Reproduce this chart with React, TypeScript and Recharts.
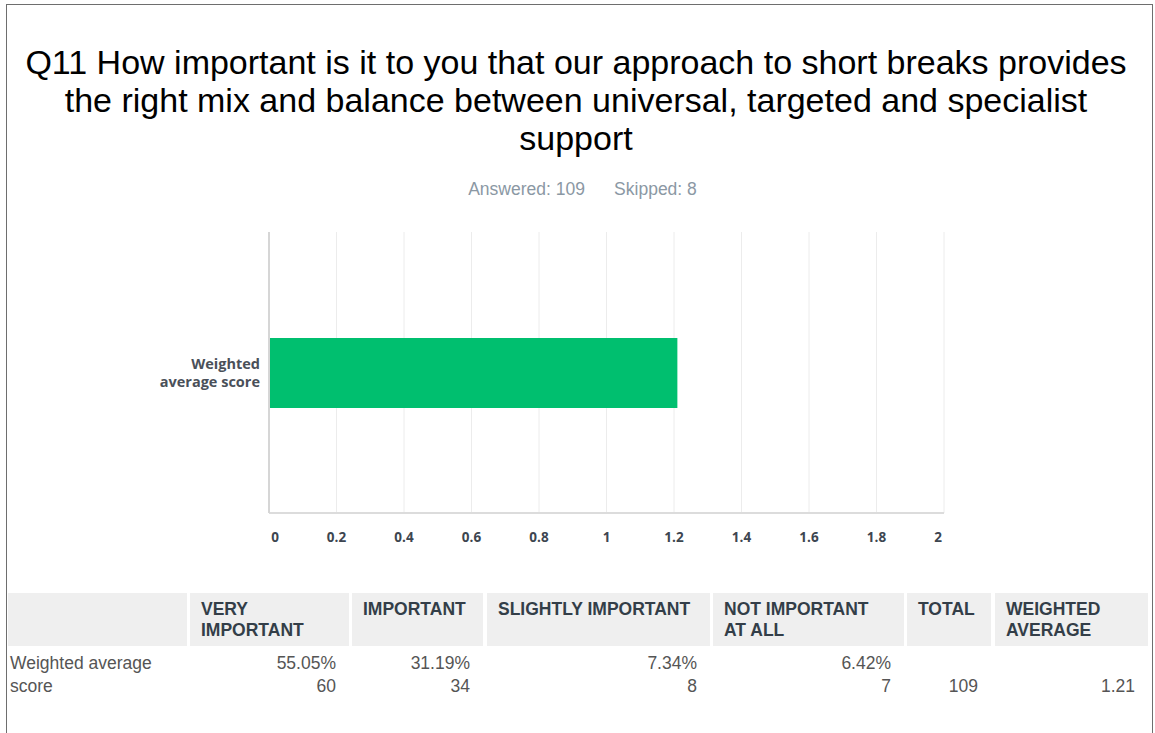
import React from "react";
import { BarChart, Bar, XAxis, YAxis, CartesianGrid } from "recharts";

const titleLines = [
  "Q11 How important is it to you that our approach to short breaks provides",
  "the right mix and balance between universal, targeted and specialist",
  "support",
];
const answered = "Answered: 109";
const skipped = "Skipped: 8";

const categories = ["Weighted average score"];
const scores = [1.21];
const xTicks = [0, 0.2, 0.4, 0.6, 0.8, 1, 1.2, 1.4, 1.6, 1.8, 2];

const headers = ["", "VERY\nIMPORTANT", "IMPORTANT", "SLIGHTLY IMPORTANT", "NOT IMPORTANT\nAT ALL", "TOTAL", "WEIGHTED\nAVERAGE"];
const rowLabel = "Weighted average\nscore";
const percents = ["55.05%", "31.19%", "7.34%", "6.42%", "", ""];
const counts = ["60", "34", "8", "7", "109", "1.21"];

const data = categories.map((c, i) => ({ name: c, value: scores[i] }));

const colLeft = [8, 190, 352, 487, 713, 907, 995];
const colRight = [187, 349, 483, 710, 904, 991, 1148];

const chartFont = "'Open Sans', sans-serif";
const tableFont = "'Liberation Sans', Arial, sans-serif";

const XTick = (props: any) => {
  const { x, y, payload } = props;
  let dx = 0;
  if (payload.value === 0) dx = 6;
  if (payload.value === 2) dx = -6;
  return (
    <text x={x + dx} y={y} textAnchor="middle" dominantBaseline="central" fill="#3d4650" fontFamily={chartFont} fontWeight={700} fontSize={13.5}>
      {String(payload.value)}
    </text>
  );
};

const YTick = (props: any) => {
  const { y } = props;
  return (
    <text x={260} y={y} textAnchor="end" fill="#4a5059" fontFamily={chartFont} fontWeight={700} fontSize={14.5}>
      <tspan x={260} dy={-4}>Weighted</tspan>
      <tspan x={260} dy={18}>average score</tspan>
    </text>
  );
};

export default function App() {
  return (
    <div style={{ position: "absolute", left: 0, top: 0, width: 1155, height: 733, background: "#fff", overflow: "hidden" }}>
      <div style={{ position: "absolute", left: 6, top: 4, width: 1145, height: 760, border: "1px solid #6e6e6e" }} />
      {titleLines.map((t, i) => (
        <div key={i} style={{ position: "absolute", left: 0, width: 1152, top: 43 + i * 38, textAlign: "center", fontFamily: tableFont, fontSize: 34, lineHeight: "38px", color: "#000", whiteSpace: "nowrap" }}>
          {t}
        </div>
      ))}
      <div style={{ position: "absolute", left: 0, width: 1165, top: 179, textAlign: "center", fontFamily: tableFont, fontSize: 17.5, lineHeight: "20px", color: "#8b98a4", whiteSpace: "pre" }}>
        {answered + "      " + skipped}
      </div>
      <div style={{ position: "absolute", left: 0, top: 0 }}>
        <BarChart width={1155} height={733} data={data} layout="vertical" margin={{ top: 232, right: 211, bottom: 190, left: 0 }}>
          <CartesianGrid horizontal={false} vertical={true} stroke="#ececec" strokeWidth={1} />
          <XAxis type="number" domain={[0, 2]} ticks={xTicks} interval={0} height={30} tickLine={false} tickSize={0} tickMargin={24} axisLine={{ stroke: "#dcdcdc", strokeWidth: 2 }} tick={<XTick />} />
          <YAxis type="category" dataKey="name" width={269} tickLine={false} axisLine={{ stroke: "#d6d6d6", strokeWidth: 2 }} tick={<YTick />} />
          <Bar dataKey="value" fill="#00bf6f" barSize={70} isAnimationActive={false} />
        </BarChart>
      </div>
      {headers.map((h, i) => (
        <div key={"h" + i} style={{ position: "absolute", left: colLeft[i], top: 593, width: colRight[i] - colLeft[i], height: 53, background: "#efefef", boxSizing: "border-box", padding: "6px 4px 0 11px", fontFamily: tableFont, fontWeight: 700, fontSize: 17.5, lineHeight: "21px", color: "#333e48", whiteSpace: "pre" }}>
          {h}
        </div>
      ))}
      <div style={{ position: "absolute", left: 10, top: 652, fontFamily: tableFont, fontSize: 17.5, lineHeight: "23px", color: "#555", whiteSpace: "pre" }}>
        {rowLabel}
      </div>
      {counts.map((c, i) => (
        <div key={"c" + i} style={{ position: "absolute", left: colLeft[i + 1], width: colRight[i + 1] - colLeft[i + 1] - 13, top: 652, textAlign: "right", fontFamily: tableFont, fontSize: 17.5, lineHeight: "23px", color: "#555", whiteSpace: "pre" }}>
          {percents[i] + "\n" + c}
        </div>
      ))}
    </div>
  );
}
